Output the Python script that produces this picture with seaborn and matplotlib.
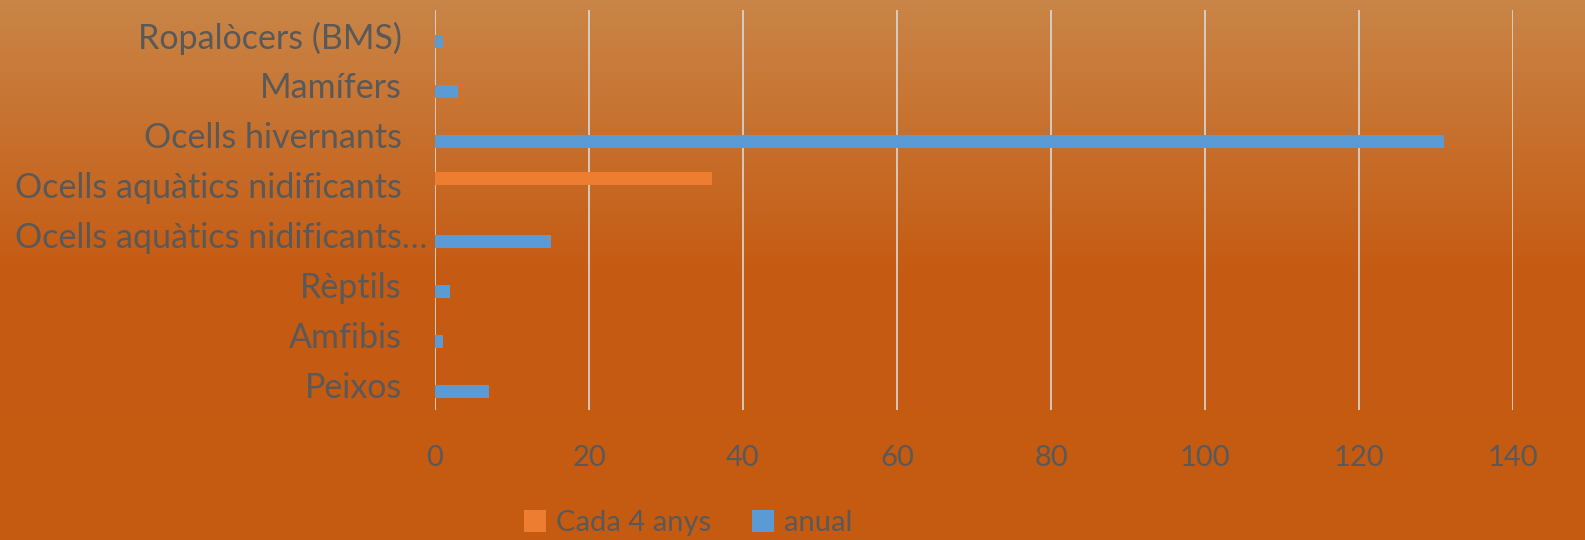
import numpy as np
import pandas as pd
import seaborn as sns
import matplotlib.pyplot as plt
from matplotlib.colors import LinearSegmentedColormap
from matplotlib.transforms import ScaledTranslation

categories = ["Ropalòcers (BMS)", "Mamífers", "Ocells hivernants",
              "Ocells aquàtics nidificants", "Ocells aquàtics nidificants…",
              "Rèptils", "Amfibis", "Peixos"]
cada_4_anys = [None, None, None, 36, None, None, None, None]
anual = [1, 3, 131, None, 15, 2, 1, 7]
series_names = ["Cada 4 anys", "anual"]
x_ticks = [0, 20, 40, 60, 80, 100, 120, 140]

rows = []
for cat, v4, va in zip(categories, cada_4_anys, anual):
    rows.append({"cat": cat, "serie": series_names[0], "valor": v4})
    rows.append({"cat": cat, "serie": series_names[1], "valor": va})
df = pd.DataFrame(rows).dropna()

sns.set_theme(style="white")
plt.rcParams["font.family"] = ["Lato", "DejaVu Sans"]

text_grey = "#595959"
palette = {"Cada 4 anys": "#ED7D31", "anual": "#5B9BD5"}

fig = plt.figure(figsize=(15.85, 5.4), dpi=100)

# background gradient over the whole figure
bg = fig.add_axes([0, 0, 1, 1], zorder=-10)
grad_cmap = LinearSegmentedColormap.from_list(
    "bg", [(0.0, "#C98547"), (0.5, "#C55B13"), (1.0, "#C55A11")])
grad = np.linspace(0, 1, 540).reshape(-1, 1)
bg.imshow(grad, aspect="auto", cmap=grad_cmap, extent=[0, 1, 0, 1], origin="upper")
bg.axis("off")

ax = fig.add_axes([435 / 1585, 1 - 410 / 540, (1513 - 435) / 1585, 400 / 540])
ax.set_facecolor("none")

sns.barplot(data=df, y="cat", x="valor", hue="serie", order=categories,
            hue_order=series_names, palette=palette, orient="h",
            width=0.52, dodge=True, saturation=1, linewidth=0, ax=ax,
            legend=True, zorder=3)

ax.set_xlim(0, 140)
ax.set_ylim(len(categories) - 0.5, -0.5)
ax.set_xticks(x_ticks)
ax.grid(axis="x", color="#D9D9D9", linewidth=1.2, zorder=0)
ax.grid(axis="y", visible=False)
ax.set_axisbelow(True)
for s in ax.spines.values():
    s.set_visible(False)
ax.set_xlabel("")
ax.set_ylabel("")
ax.tick_params(axis="y", length=0, pad=24, labelsize=24.5, labelcolor=text_grey)
ax.tick_params(axis="x", length=0, pad=25, labelsize=21, labelcolor=text_grey)

# the truncated label hangs a bit to the right, like in the original
for lab in ax.get_yticklabels():
    if lab.get_text().endswith("…"):
        lab.set_transform(lab.get_transform() + ScaledTranslation(0.26, 0, fig.dpi_scale_trans))

handles, labels = ax.get_legend_handles_labels()
ax.get_legend().remove()
fig.legend(handles, labels, loc="center", bbox_to_anchor=(688 / 1585, 1 - 523 / 540),
           ncol=2, frameon=False, fontsize=21, labelcolor=text_grey,
           handlelength=0.75, handleheight=0.75, handletextpad=0.35, columnspacing=1.4)

fig.savefig("out.png", dpi=100, facecolor="#C55A11")
